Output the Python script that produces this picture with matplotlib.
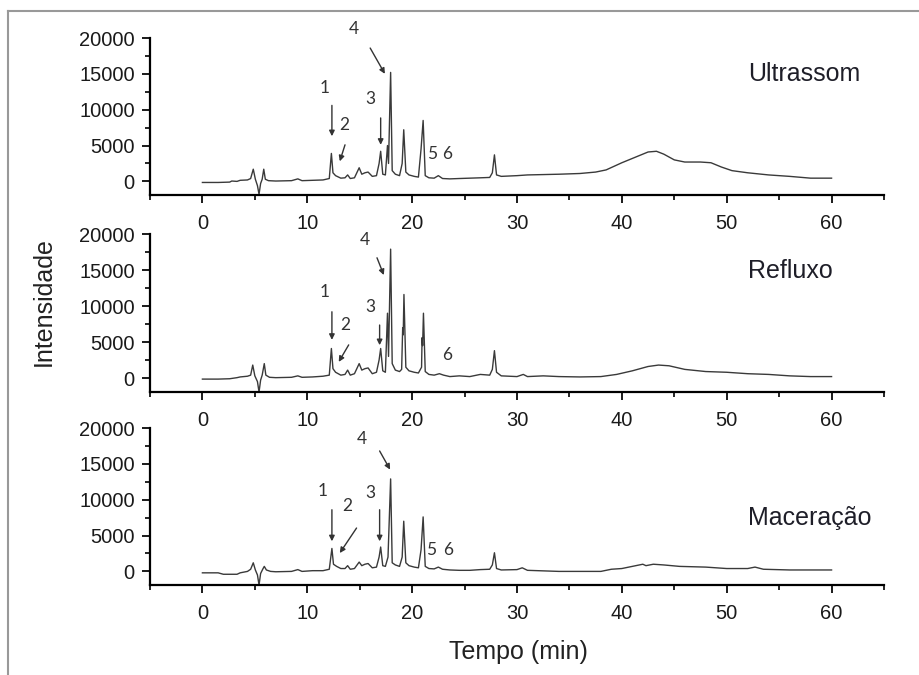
import matplotlib
matplotlib.use("Agg")
import matplotlib.pyplot as plt
from matplotlib.lines import Line2D
from matplotlib.ticker import MultipleLocator

plt.rcParams['font.family'] = ['Liberation Sans', 'DejaVu Sans']

# DATA

# Ultrassom
t_ultra = [0, 1.5, 2.6, 2.8, 3.3, 3.6, 4.3, 4.6, 4.85, 5.05, 5.25, 5.4, 5.55, 5.7, 5.85, 6.0,
           6.3, 7.0, 8.5, 9.1, 9.5, 10.5, 11.5, 12.1, 12.3, 12.45, 12.7, 13.2, 13.6, 13.85,
           14.1, 14.5, 14.95, 15.2, 15.5, 15.8, 16.2, 16.6, 16.85, 17.0, 17.2, 17.45, 17.65,
           17.75, 17.95, 18.1, 18.4, 18.8, 19.05, 19.2, 19.4, 19.7, 20.2, 20.6, 20.85, 21.05,
           21.25, 21.6, 22.1, 22.5, 22.9, 23.6, 24.5, 25.5, 26.5, 27.4, 27.65, 27.85, 28.05,
           28.5, 30, 31, 32.5, 34, 36, 37.5, 38.5, 40, 41.5, 42.5, 43.3, 44, 45, 46, 47.5,
           48.5, 49.5, 50.5, 52, 54, 56, 58, 60]
i_ultra = [-150, -150, -100, 50, 0, 150, 200, 400, 1700, 300, -600, -1800, -300, 300, 1700, 300,
           100, 50, 100, 350, 100, 150, 200, 400, 3900, 1200, 800, 450, 500, 900,
           400, 500, 1900, 1000, 1200, 1300, 700, 800, 2500, 4200, 1000, 900, 5000,
           2500, 15200, 1500, 1000, 800, 2500, 7200, 1300, 900, 700, 600, 4500, 8500,
           800, 500, 450, 800, 400, 350, 400, 450, 500, 550, 1200, 3700, 900,
           700, 800, 900, 950, 1000, 1100, 1300, 1600, 2600, 3500, 4100, 4200, 3800, 3000, 2700, 2700,
           2600, 2000, 1500, 1200, 900, 700, 450, 450]

# Refluxo
t_reflux = [0, 1.5, 2.6, 3.3, 3.6, 4.3, 4.6, 4.8, 5.0, 5.25, 5.4, 5.55, 5.7, 5.9, 6.05, 6.4,
            7.0, 8.5, 9.1, 9.5, 10.5, 11.5, 12.1, 12.3, 12.45, 12.7, 13.2, 13.6, 13.85, 14.1,
            14.5, 14.95, 15.2, 15.5, 15.8, 16.2, 16.6, 16.85, 17.0, 17.2, 17.45, 17.65, 17.75,
            17.95, 18.1, 18.4, 18.8, 19.0, 19.1, 19.15, 19.22, 19.4, 19.7, 20.2, 20.6, 20.9,
            20.95, 21.0, 21.08, 21.25, 21.6, 22.1, 22.6, 23.0, 23.6, 24.5, 25.5, 26.5, 27.4,
            27.65, 27.85, 28.05, 28.5, 30, 30.6, 31, 32.5, 34, 36, 38, 39.5, 41, 42.5, 43.5,
            44.5, 46, 48, 50, 52, 54, 56, 58, 60]
i_reflux = [-150, -150, -100, 50, 150, 250, 400, 1800, 300, -500, -1950, -300, 400, 2000, 400, 100,
            50, 100, 300, 100, 150, 250, 400, 4100, 1300, 800, 400, 500, 1100, 400,
            600, 2000, 1100, 1300, 1400, 600, 800, 2500, 4100, 1000, 800, 9000, 3000,
            17900, 2000, 1100, 900, 1200, 7000, 6000, 11600, 1500, 1000, 800, 700, 1500,
            5600, 4500, 9000, 900, 500, 400, 600, 400, 200, 300, 200, 500, 400,
            1200, 3800, 800, 300, 200, 500, 200, 300, 200, 150, 200, 500, 1000, 1600, 1800,
            1700, 1200, 900, 800, 600, 500, 300, 200, 200]

# Maceracao
t_macer = [0, 1.5, 2.0, 3.3, 3.6, 4.3, 4.6, 4.85, 5.05, 5.25, 5.4, 5.55, 5.75, 5.9, 6.1, 6.5,
           7.0, 8.5, 9.1, 9.5, 10.5, 11.5, 12.1, 12.35, 12.5, 12.8, 13.2, 13.6, 13.85, 14.1,
           14.5, 14.95, 15.2, 15.5, 15.8, 16.2, 16.6, 16.85, 17.0, 17.2, 17.45, 17.7, 17.95,
           18.1, 18.4, 18.8, 19.05, 19.2, 19.4, 19.7, 20.2, 20.6, 20.85, 21.05, 21.25, 21.6,
           22.1, 22.5, 22.9, 23.6, 24.5, 25.5, 26.5, 27.4, 27.65, 27.85, 28.05, 28.5, 30,
           30.5, 31, 32, 34, 36, 38, 39, 40, 41, 42, 42.3, 43, 44, 45.5, 48, 50, 52, 52.7,
           53.5, 56, 58, 60]
i_macer = [-200, -200, -400, -400, -200, 0, 300, 1200, 200, -500, -1900, -300, 300, 700, 200, 0,
           -50, 0, 250, 0, 100, 100, 300, 3200, 1000, 700, 400, 400, 800, 300,
           400, 1300, 800, 1000, 1100, 500, 600, 2000, 3400, 800, 700, 2000, 12900,
           1200, 900, 700, 2000, 7000, 1200, 800, 600, 500, 3000, 7600, 700, 400,
           350, 600, 300, 200, 150, 150, 250, 300, 900, 2600, 400, 200, 250,
           500, 150, 100, 0, 0, 0, 300, 400, 700, 1000, 800, 1000, 900, 700, 600, 400, 400, 600,
           300, 200, 200, 200]

names = ['Ultrassom', 'Refluxo', 'Maceração']
times = [t_ultra, t_reflux, t_macer]
signals = [i_ultra, i_reflux, i_macer]

# peak numbers: (label, text x, text y)
labels_ultra = [('1', 11.7, 13000), ('2', 13.5, 7900), ('3', 16.0, 11500), ('4', 14.4, 21300),
                ('5', 21.9, 3870), ('6', 23.3, 3870)]
labels_reflux = [('1', 11.7, 12000), ('2', 13.6, 7400), ('3', 16.0, 9800), ('4', 15.5, 19200),
                 ('6', 23.3, 3170)]
labels_macer = [('1', 11.5, 11200), ('2', 13.8, 9100), ('3', 16.0, 10900), ('4', 15.2, 18500),
                ('5', 21.8, 3000), ('6', 23.4, 3000)]
# arrows: (x start, y start, x end, y end)
arrows_ultra = [(12.35, 10600, 12.35, 6300), (13.6, 5100, 13.1, 2800),
                (17.0, 8850, 17.0, 5100), (16.0, 18600, 17.4, 15000)]
arrows_reflux = [(12.35, 9200, 12.35, 5300), (13.95, 4600, 13.0, 2240),
                 (16.9, 7360, 16.9, 4560), (16.65, 16700, 17.3, 14300)]
arrows_macer = [(12.35, 8600, 12.35, 4200), (14.7, 6050, 13.1, 2560),
                (16.9, 8600, 16.9, 4200), (16.9, 16800, 17.9, 14200)]
peak_labels = [labels_ultra, labels_reflux, labels_macer]
peak_arrows = [arrows_ultra, arrows_reflux, arrows_macer]
name_y = [15000, 14800, 7400]

# FIGURE
fig = plt.figure(figsize=(9.19, 6.75), dpi=100)
boxes = [[0.1632, 0.7111, 0.7987, 0.2326],
         [0.1632, 0.4197, 0.7987, 0.2336],
         [0.1632, 0.1333, 0.7987, 0.2326]]

for k in range(3):
    ax = fig.add_axes(boxes[k])
    ax.plot(times[k], signals[k], color='#3a3a3a', lw=1.0)
    ax.set_xlim(-5, 65)
    ax.set_ylim(-1900, 20000)
    ax.spines['top'].set_visible(False)
    ax.spines['right'].set_visible(False)
    ax.spines['left'].set_linewidth(1.6)
    ax.spines['bottom'].set_linewidth(1.6)
    ax.xaxis.set_minor_locator(MultipleLocator(5))
    ax.set_xticks(list(range(0, 61, 10)))
    ax.yaxis.set_minor_locator(MultipleLocator(2500))
    ax.set_yticks([0, 5000, 10000, 15000, 20000])
    ax.tick_params(axis='both', which='major', direction='out', length=6, width=1.4,
                   labelsize=14.5, colors='#1a1a1a')
    ax.tick_params(axis='both', which='minor', direction='out', length=3.5, width=1.2)
    ax.tick_params(axis='x', which='major', pad=8)
    ax.tick_params(axis='y', which='major', pad=5)

    for lab, x, y in peak_labels[k]:
        ax.text(x, y, lab, fontsize=12.5, family=['Lato', 'DejaVu Sans'], color='#333333',
                ha='center', va='center', clip_on=False)
    for x0, y0, x1, y1 in peak_arrows[k]:
        ax.annotate('', xy=(x1, y1), xytext=(x0, y0), annotation_clip=False,
                    arrowprops=dict(arrowstyle='-|>', lw=1.0, color='#333333',
                                    mutation_scale=8, shrinkA=0, shrinkB=0))
    ax.text(52, name_y[k], names[k], fontsize=18, color='#1e1e28', ha='left', va='center')

fig.text(44 / 919, 1 - 302 / 675, 'Intensidade', rotation=90, fontsize=18, color='#222222',
         ha='center', va='center')
fig.text(518 / 919, 1 - 652 / 675, 'Tempo (min)', fontsize=18, color='#222222',
         ha='center', va='center')

# gray frame of the original picture
fig.add_artist(Line2D([8 / 919, 8 / 919], [0, 1 - 11 / 675], color='#999999', lw=1.5))
fig.add_artist(Line2D([8 / 919, 1], [1 - 11 / 675, 1 - 11 / 675], color='#999999', lw=1.5))

fig.savefig('out.png', dpi=100)
